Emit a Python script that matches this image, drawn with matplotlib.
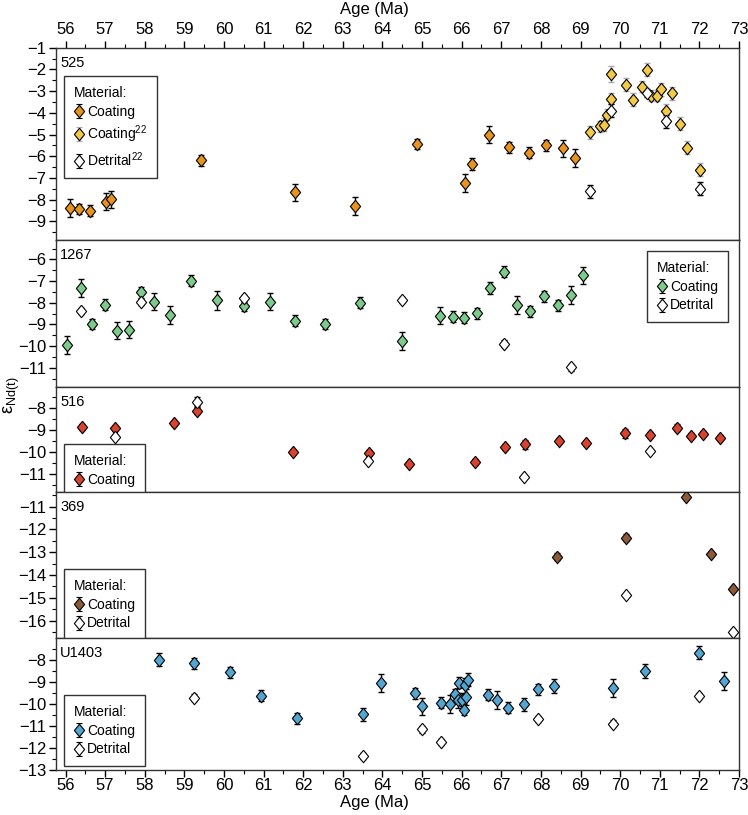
import matplotlib
matplotlib.use("Agg")
import matplotlib.pyplot as plt
from matplotlib.ticker import MultipleLocator, FuncFormatter
import numpy as np

plt.rcParams['font.family'] = ['Liberation Sans', 'DejaVu Sans']
plt.rcParams['mathtext.fontset'] = 'custom'
plt.rcParams['mathtext.rm'] = 'Liberation Sans'
plt.rcParams['mathtext.it'] = 'Liberation Sans:italic'

# ---------------- DATA ----------------
# Site 525
s525_coat_age = [56.11, 56.35, 56.61, 57.01, 57.14, 59.41, 61.80, 63.30, 64.86, 66.08, 66.27, 66.69, 67.20, 67.70, 68.14, 68.56, 68.87]
s525_coat_nd = [-8.39, -8.43, -8.51, -8.10, -7.98, -6.19, -7.67, -8.30, -5.44, -7.23, -6.36, -5.00, -5.58, -5.84, -5.49, -5.63, -6.08]
s525_coat_err = [0.42, 0.25, 0.25, 0.40, 0.40, 0.25, 0.40, 0.40, 0.25, 0.40, 0.27, 0.40, 0.25, 0.25, 0.25, 0.40, 0.40]
s525_c22_age = [69.23, 69.48, 69.60, 69.66, 69.76, 69.76, 70.16, 70.33, 70.56, 70.67, 70.79, 70.93, 71.03, 71.15, 71.31, 71.51, 71.69, 72.02]
s525_c22_nd = [-4.89, -4.62, -4.54, -4.08, -3.35, -2.21, -2.71, -3.40, -2.80, -2.01, -3.21, -3.21, -2.91, -3.90, -3.11, -4.51, -5.61, -6.62]
s525_c22_err = [0.30, 0.25, 0.30, 0.25, 0.25, 0.35, 0.30, 0.30, 0.25, 0.30, 0.25, 0.25, 0.30, 0.30, 0.30, 0.30, 0.30, 0.30]
s525_det_age = [69.23, 69.76, 70.67, 71.15, 72.02]
s525_det_nd = [-7.61, -3.90, -3.09, -4.39, -7.49]
s525_det_err = [0.30, 0.30, 0.20, 0.30, 0.30]

# Site 1267
s1267_coat_age = [56.05, 56.40, 56.67, 56.99, 57.31, 57.60, 57.91, 58.23, 58.64, 59.17, 59.83, 60.50, 61.17, 61.80, 62.55, 63.44, 64.49, 65.46, 65.79, 66.05, 66.38, 66.72, 67.07, 67.39, 67.73, 68.08, 68.43, 68.75, 69.06]
s1267_coat_nd = [-9.94, -7.32, -8.98, -8.08, -9.29, -9.24, -7.52, -7.94, -8.56, -6.98, -7.89, -8.15, -7.95, -8.83, -8.98, -8.00, -9.76, -8.59, -8.65, -8.68, -8.48, -7.32, -6.56, -8.11, -8.39, -7.70, -8.12, -7.64, -6.73]
s1267_coat_err = [0.42, 0.42, 0.25, 0.25, 0.40, 0.40, 0.25, 0.40, 0.40, 0.25, 0.45, 0.25, 0.40, 0.25, 0.25, 0.25, 0.40, 0.40, 0.25, 0.25, 0.25, 0.27, 0.27, 0.42, 0.25, 0.25, 0.25, 0.42, 0.40]
s1267_det_age = [56.40, 57.91, 60.50, 64.49, 67.07, 68.75]
s1267_det_nd = [-8.38, -7.97, -7.80, -7.86, -9.88, -10.98]
s1267_det_err = [0.15, 0.15, 0.15, 0.15, 0.15, 0.15]

# Site 516
s516_coat_age = [56.41, 57.24, 58.73, 59.33, 61.75, 63.66, 64.67, 66.34, 67.09, 67.59, 68.45, 69.14, 70.11, 70.75, 71.44, 71.78, 72.09, 72.51]
s516_coat_nd = [-8.86, -8.92, -8.70, -8.12, -10.00, -10.04, -10.53, -10.45, -9.76, -9.65, -9.48, -9.60, -9.15, -9.23, -8.89, -9.25, -9.16, -9.34]
s516_coat_err = [0.12, 0.12, 0.12, 0.15, 0.10, 0.15, 0.10, 0.12, 0.12, 0.20, 0.12, 0.12, 0.20, 0.12, 0.15, 0.12, 0.12, 0.12]
s516_det_age = [57.24, 59.33, 63.63, 67.58, 70.75]
s516_det_nd = [-9.33, -7.72, -10.40, -11.10, -9.94]
s516_det_err = [0.05, 0.20, 0.08, 0.05, 0.05]

# Site 369
s369_coat_age = [68.40, 70.15, 71.65, 72.30, 72.84]
s369_coat_nd = [-13.20, -12.37, -10.57, -13.09, -14.61]
s369_coat_err = [0.15, 0.15, 0.08, 0.08, 0.08]
s369_det_age = [70.15, 72.84]
s369_det_nd = [-14.88, -16.50]
s369_det_err = [0.05, 0.05]

# Site U1403
u1403_coat_age = [58.35, 59.25, 60.14, 60.94, 61.85, 63.50, 63.96, 64.81, 64.99, 65.48, 65.70, 65.84, 65.91, 65.94, 66.00, 66.05, 66.08, 66.12, 66.15, 66.67, 66.90, 67.17, 67.57, 67.93, 68.33, 69.81, 70.62, 71.98, 72.61]
u1403_coat_nd = [-8.00, -8.15, -8.57, -9.63, -10.65, -10.47, -9.05, -9.52, -10.11, -9.94, -9.99, -9.57, -9.84, -9.04, -9.81, -10.26, -9.16, -9.69, -8.90, -9.58, -9.81, -10.18, -10.02, -9.34, -9.19, -9.28, -8.50, -7.67, -8.96]
u1403_coat_err = [0.30, 0.25, 0.25, 0.25, 0.25, 0.30, 0.40, 0.25, 0.40, 0.25, 0.40, 0.25, 0.35, 0.25, 0.30, 0.25, 0.35, 0.35, 0.30, 0.25, 0.40, 0.25, 0.30, 0.25, 0.30, 0.40, 0.30, 0.30, 0.40]
u1403_det_age = [59.25, 63.50, 64.99, 65.48, 67.93, 69.81, 71.98]
u1403_det_nd = [-9.72, -12.37, -11.15, -11.73, -10.68, -10.89, -9.64]
u1403_det_err = [0.15, 0.15, 0.15, 0.15, 0.15, 0.15, 0.15]

site_names = ['525', '1267', '516', '369', 'U1403']
coat_colors = ['#E8921F', '#7DCB8C', '#D8432F', '#8C5A3A', '#55A5D2']
c22_color = '#F3C94A'
ylims = [(-9.86, -1.0), (-11.9, -5.1), (-11.8, -7.07), (-16.77, -10.36), (-13.0, -7.02)]
xlim = (55.76, 73.0)

# ---------------- LAYOUT ----------------
W, H = 748, 815
fig = plt.figure(figsize=(W / 100, H / 100), dpi=100)
bounds = [47.7, 240, 387.3, 492, 638.3, 770]
left_px, right_px = 56, 739

diamond = [(0, 1), (0.82, 0), (0, -1), (-0.82, 0), (0, 1)]
minus_fmt = FuncFormatter(lambda v, p: '\u2212%d' % abs(round(v)) if v < 0 else '%d' % round(v))
int_fmt = FuncFormatter(lambda v, p: '%d' % round(v))

axes = []
for i in range(5):
    top, bot = bounds[i], bounds[i + 1]
    ax = fig.add_axes([left_px / W, 1 - bot / H, (right_px - left_px) / W, (bot - top) / H])
    ax.set_xlim(*xlim)
    ax.set_ylim(*ylims[i])
    ax.yaxis.set_major_locator(MultipleLocator(1))
    ax.yaxis.set_minor_locator(MultipleLocator(0.5))
    ax.xaxis.set_major_locator(MultipleLocator(1))
    ax.xaxis.set_minor_locator(MultipleLocator(0.5))
    ax.yaxis.set_major_formatter(minus_fmt)
    ax.xaxis.set_major_formatter(int_fmt)
    ax.tick_params(axis='y', which='major', direction='out', length=5, width=1, labelsize=12, pad=2)
    ax.tick_params(axis='y', which='minor', direction='out', length=3, width=0.8)
    if i == 0:
        ax.tick_params(axis='x', which='both', top=True, bottom=False, labeltop=True, labelbottom=False)
        ax.tick_params(axis='x', which='major', pad=3)
    elif i == 4:
        ax.tick_params(axis='x', which='both', top=False, bottom=True, labeltop=False, labelbottom=True)
        ax.tick_params(axis='x', which='major', pad=1)
    else:
        ax.tick_params(axis='x', which='both', top=False, bottom=False, labeltop=False, labelbottom=False)
    ax.tick_params(axis='x', which='major', direction='out', length=5, width=1, labelsize=12)
    ax.tick_params(axis='x', which='minor', direction='out', length=3, width=0.8)
    for sp in ax.spines.values():
        sp.set_color('#333333')
        sp.set_linewidth(1.0)
    fig.text(60 / W, 1 - (top + 15) / H, site_names[i], ha='left', va='center', fontsize=10.5)
    axes.append(ax)


def series_plot(ax, x, y, e, color, ecolor='black'):
    ax.errorbar(x, y, yerr=e, fmt='none', ecolor=ecolor, elinewidth=1, capsize=2.5, capthick=1, zorder=2)
    ax.plot(x, y, linestyle='none', marker=diamond, markersize=9, markerfacecolor=color,
            markeredgecolor='black', markeredgewidth=0.8, zorder=3)


def handle(ax, color, ecolor='black'):
    return ax.errorbar([np.nan], [np.nan], yerr=[1], ecolor=ecolor, elinewidth=1, capsize=2.5,
                       capthick=1, marker=diamond, markersize=9, markerfacecolor=color,
                       markeredgecolor='black', markeredgewidth=0.8, linestyle='none')


data = [
    [(s525_coat_age, s525_coat_nd, s525_coat_err, coat_colors[0], 'black'),
     (s525_c22_age, s525_c22_nd, s525_c22_err, c22_color, '#A8A8A8'),
     (s525_det_age, s525_det_nd, s525_det_err, 'white', 'black')],
    [(s1267_coat_age, s1267_coat_nd, s1267_coat_err, coat_colors[1], 'black'),
     (s1267_det_age, s1267_det_nd, s1267_det_err, 'white', 'black')],
    [(s516_coat_age, s516_coat_nd, s516_coat_err, coat_colors[2], 'black'),
     (s516_det_age, s516_det_nd, s516_det_err, 'white', 'black')],
    [(s369_coat_age, s369_coat_nd, s369_coat_err, coat_colors[3], 'black'),
     (s369_det_age, s369_det_nd, s369_det_err, 'white', 'black')],
    [(u1403_coat_age, u1403_coat_nd, u1403_coat_err, coat_colors[4], 'black'),
     (u1403_det_age, u1403_det_nd, u1403_det_err, 'white', 'black')],
]

for ax, series in zip(axes, data):
    for x, y, e, c, ec in series:
        series_plot(ax, x, y, e, c, ec)

legend_specs = [
    (0, (64, 76), [(coat_colors[0], 'black', 'Coating'), (c22_color, '#A8A8A8', 'Coating$^{22}$'),
                   ('white', 'black', 'Detrital$^{22}$')]),
    (1, (647, 251), [(coat_colors[1], 'black', 'Coating'), ('white', 'black', 'Detrital')]),
    (2, (64, 444), [(coat_colors[2], 'black', 'Coating')]),
    (3, (64, 569), [(coat_colors[3], 'black', 'Coating'), ('white', 'black', 'Detrital')]),
    (4, (64, 695), [(coat_colors[4], 'black', 'Coating'), ('white', 'black', 'Detrital')]),
]
for idx, (px, py), entries in legend_specs:
    ax = axes[idx]
    hs = [handle(ax, c, ec) for c, ec, _ in entries]
    labs = [l for _, _, l in entries]
    leg = ax.legend(hs, labs, title='Material:', loc='upper left',
                    bbox_to_anchor=(px / W, 1 - py / H), bbox_transform=fig.transFigure,
                    borderaxespad=0, fontsize=10, title_fontsize=10, frameon=True, fancybox=False,
                    edgecolor='black', handlelength=0.7, handletextpad=0.25, labelspacing=0.35,
                    borderpad=0.7, alignment='left')
    leg.get_frame().set_linewidth(1.0)
    leg.set_zorder(5)

fig.text(0.5, 1 - 2 / H, 'Age (Ma)', ha='center', va='top', fontsize=12)
fig.text(0.5, 1 - 810 / H, 'Age (Ma)', ha='center', va='bottom', fontsize=12)
fig.text(12 / W, 1 - 395 / H, r'$\mathrm{\varepsilon}_{\mathrm{Nd(t)}}$', ha='center', va='center',
         rotation=90, fontsize=13)

fig.savefig('out.png', dpi=100)
